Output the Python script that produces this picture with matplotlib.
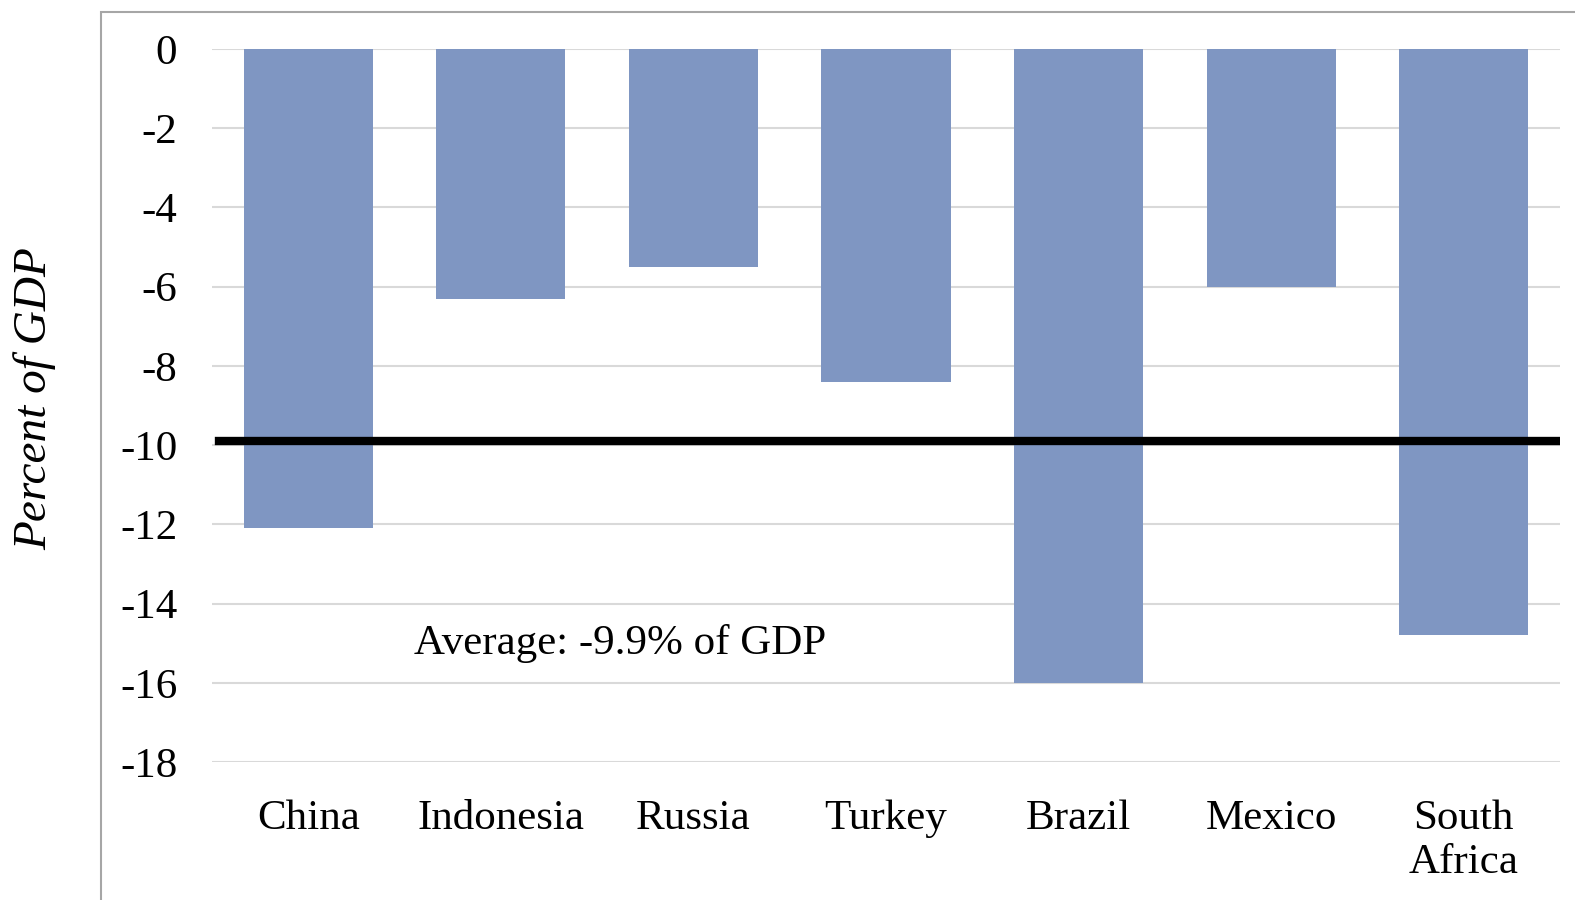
import matplotlib
matplotlib.use('Agg')
import matplotlib.pyplot as plt
from matplotlib.patches import Rectangle

countries = ['China', 'Indonesia', 'Russia', 'Turkey', 'Brazil', 'Mexico', 'South\nAfrica']
pct_gdp = [-12.1, -6.3, -5.5, -8.4, -16.0, -6.0, -14.8]
average = -9.9
yticks = [0, -2, -4, -6, -8, -10, -12, -14, -16, -18]

plt.rcParams['font.family'] = ['Liberation Serif', 'DejaVu Serif']

fig = plt.figure(figsize=(15.75, 9), dpi=100)
# chart border, open to the right and bottom
fig.patches.append(Rectangle((101 / 1575, -0.1), 2, 1 - 12 / 900 + 0.1,
                             transform=fig.transFigure, fill=False,
                             edgecolor='#a6a6a6', linewidth=1.5))

ax = fig.add_axes([212 / 1575, 1 - 762 / 900, 1348 / 1575, 713 / 900])
x = range(len(countries))
ax.bar(x, pct_gdp, width=0.67, color='#7f96c2', zorder=2)
ax.axhline(average, xmin=0.005, xmax=1.0, color='black', linewidth=6, zorder=3)
ax.text(0.55, -15.0, 'Average: -9.9% of GDP', fontsize=31, va='center', ha='left')

ax.set_xlim(-0.5, len(countries) - 0.5)
ax.set_ylim(-18, 0)
ax.set_yticks(yticks)
ax.set_yticklabels([str(t) for t in yticks])
ax.set_xticks(list(x))
ax.set_xticklabels(countries, linespacing=1.2)
ax.tick_params(axis='both', length=0, labelsize=31)
ax.tick_params(axis='y', pad=25)
ax.tick_params(axis='x', pad=27)
ax.grid(axis='y', color='#d9d9d9', linewidth=1.5, zorder=0)
ax.set_axisbelow(True)
for s in ax.spines.values():
    s.set_visible(False)

fig.text(35 / 1575, 1 - 399 / 900, 'Percent of GDP', rotation=90, style='italic',
         fontsize=34, va='center', ha='center')

fig.savefig('out.png', dpi=100)
